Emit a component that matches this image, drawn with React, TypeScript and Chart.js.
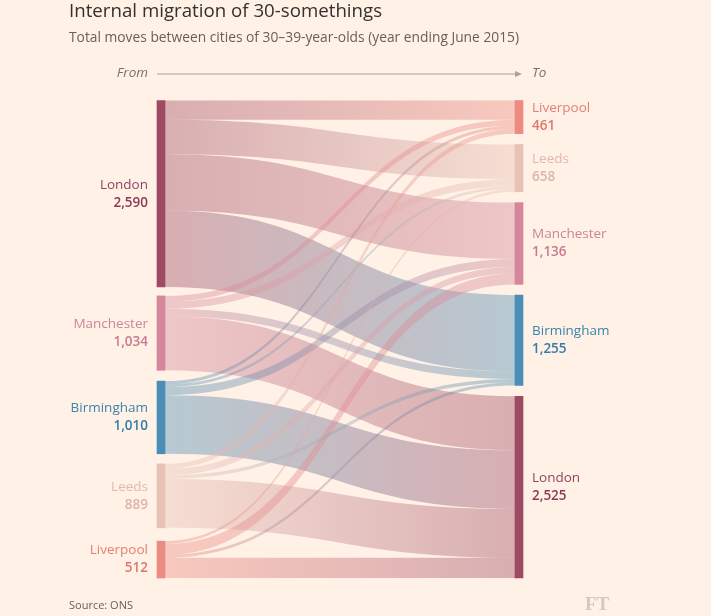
import React, { useEffect, useRef } from "react";
import { Chart, registerables } from "chart.js";
Chart.register(...registerables);

// ---- Data ----
const sourceCities = ["London", "Manchester", "Birmingham", "Leeds", "Liverpool"];
const targetCities = ["Liverpool", "Leeds", "Manchester", "Birmingham", "London"];
// flows (from -> to, number of moves)
const flowFrom = [
  "London", "London", "London", "London",
  "Manchester", "Manchester", "Manchester", "Manchester",
  "Birmingham", "Birmingham", "Birmingham", "Birmingham",
  "Leeds", "Leeds", "Leeds", "Leeds",
  "Liverpool", "Liverpool", "Liverpool", "Liverpool",
];
const flowTo = [
  "Liverpool", "Leeds", "Manchester", "Birmingham",
  "Liverpool", "Leeds", "Birmingham", "London",
  "Liverpool", "Leeds", "Manchester", "London",
  "Liverpool", "Manchester", "Birmingham", "London",
  "Leeds", "Manchester", "Birmingham", "London",
];
const flowValues = [
  266, 480, 784, 1060,
  80, 100, 104, 750,
  45, 40, 110, 815,
  70, 90, 49, 680,
  38, 152, 42, 280,
];

const cityColors: Record<string, string> = {
  London: "#9e4a64",
  Manchester: "#d4879b",
  Birmingham: "#4a8db6",
  Leeds: "#e8c1b7",
  Liverpool: "#ec8b82",
};
const labelColors: Record<string, string> = {
  London: "#8e4660",
  Manchester: "#cc8599",
  Birmingham: "#3a84ad",
  Leeds: "#dfb8ae",
  Liverpool: "#e27f76",
};
const valueColors: Record<string, string> = {
  London: "#8a3a55",
  Manchester: "#c97a90",
  Birmingham: "#337ea8",
  Leeds: "#dcb3a9",
  Liverpool: "#df766d",
};

const leftGaps = [125, 150, 140, 185];
const rightGaps = [150, 150, 150, 150];

const FONT = '"Open Sans", sans-serif';
const BG = "#fff1e5";

function sum(a: number[]) {
  return a.reduce((s, v) => s + v, 0);
}

function layoutNodes(cities: string[], gaps: number[], key: "from" | "to") {
  let pos = 0;
  return cities.map((c, i) => {
    const total = sum(flowValues.filter((_, k) => (key === "from" ? flowFrom[k] : flowTo[k]) === c));
    const node = { city: c, start: pos, end: pos + total, total };
    pos += total + (gaps[i] || 0);
    return node;
  });
}

const leftNodes = layoutNodes(sourceCities, leftGaps, "from");
const rightNodes = layoutNodes(targetCities, rightGaps, "to");
const yMax = Math.max(leftNodes[leftNodes.length - 1].end, rightNodes[rightNodes.length - 1].end);

function hexA(hex: string, a: number) {
  const n = parseInt(hex.slice(1), 16);
  return `rgba(${(n >> 16) & 255},${(n >> 8) & 255},${n & 255},${a})`;
}

// compute flow offsets
function flowGeometry() {
  const outOff: Record<string, number> = {};
  const inOff: Record<string, number> = {};
  leftNodes.forEach((n) => (outOff[n.city] = n.start));
  rightNodes.forEach((n) => (inOff[n.city] = n.start));
  const idx = flowValues.map((_, i) => i);
  const srcStart: number[] = [];
  const tgtStart: number[] = [];
  sourceCities.forEach((s) => {
    idx
      .filter((i) => flowFrom[i] === s)
      .sort((a, b) => targetCities.indexOf(flowTo[a]) - targetCities.indexOf(flowTo[b]))
      .forEach((i) => {
        srcStart[i] = outOff[s];
        outOff[s] += flowValues[i];
      });
  });
  targetCities.forEach((t) => {
    idx
      .filter((i) => flowTo[i] === t)
      .sort((a, b) => sourceCities.indexOf(flowFrom[a]) - sourceCities.indexOf(flowFrom[b]))
      .forEach((i) => {
        tgtStart[i] = inOff[t];
        inOff[t] += flowValues[i];
      });
  });
  return { srcStart, tgtStart };
}
const geo = flowGeometry();

const fmt = (v: number) => v.toLocaleString("en-US");

const bgPlugin = {
  id: "bg",
  beforeDraw(chart: any) {
    const { ctx, width, height } = chart;
    ctx.save();
    ctx.fillStyle = BG;
    ctx.fillRect(0, 0, width, height);
    ctx.restore();
  },
};

const flowPlugin = {
  id: "flows",
  beforeDatasetsDraw(chart: any) {
    const { ctx, scales } = chart;
    const xs = scales.x, ys = scales.y;
    const x0 = xs.getPixelForValue(0) + 4;
    const x1 = xs.getPixelForValue(100) - 4;
    const xm = (x0 + x1) / 2;
    const order = flowValues.map((_, i) => i).sort((a, b) => flowValues[b] - flowValues[a]);
    ctx.save();
    order.forEach((i) => {
      const s0 = ys.getPixelForValue(geo.srcStart[i]);
      const s1 = ys.getPixelForValue(geo.srcStart[i] + flowValues[i]);
      const t0 = ys.getPixelForValue(geo.tgtStart[i]);
      const t1 = ys.getPixelForValue(geo.tgtStart[i] + flowValues[i]);
      const g = ctx.createLinearGradient(x0, 0, x1, 0);
      g.addColorStop(0, hexA(cityColors[flowFrom[i]], 0.4));
      g.addColorStop(1, hexA(cityColors[flowTo[i]], 0.4));
      ctx.fillStyle = g;
      ctx.beginPath();
      ctx.moveTo(x0, s0);
      ctx.bezierCurveTo(xm, s0, xm, t0, x1, t0);
      ctx.lineTo(x1, t1);
      ctx.bezierCurveTo(xm, t1, xm, s1, x0, s1);
      ctx.closePath();
      ctx.fill();
    });
    ctx.restore();
  },
};

const labelPlugin = {
  id: "labels",
  afterDatasetsDraw(chart: any) {
    const { ctx, scales, chartArea } = chart;
    const xs = scales.x, ys = scales.y;
    const lx = xs.getPixelForValue(0) - 13;
    const rx = xs.getPixelForValue(100) + 13;
    ctx.save();
    ctx.textBaseline = "middle";
    const drawLabel = (n: any, x: number, align: string) => {
      const cy = ys.getPixelForValue((n.start + n.end) / 2);
      ctx.textAlign = align;
      ctx.font = `13.5px ${FONT}`;
      ctx.fillStyle = labelColors[n.city];
      ctx.fillText(n.city, x, cy - 9);
      ctx.font = `600 13.5px ${FONT}`;
      ctx.fillStyle = valueColors[n.city];
      ctx.fillText(fmt(n.total), x, cy + 9);
    };
    leftNodes.forEach((n) => drawLabel(n, lx, "right"));
    rightNodes.forEach((n) => drawLabel(n, rx, "left"));

    // From -> To header
    const hy = chartArea.top - 27;
    ctx.font = `italic 13.5px ${FONT}`;
    ctx.fillStyle = "#77716c";
    ctx.textAlign = "right";
    ctx.fillText("From", lx, hy);
    ctx.textAlign = "left";
    ctx.fillText("To", rx, hy);
    const ax0 = xs.getPixelForValue(0) - 4;
    const ax1 = xs.getPixelForValue(100) + 3;
    ctx.strokeStyle = "#a8a29d";
    ctx.lineWidth = 1;
    ctx.beginPath();
    ctx.moveTo(ax0, hy + 0.5);
    ctx.lineTo(ax1 - 5, hy + 0.5);
    ctx.stroke();
    ctx.fillStyle = "#a8a29d";
    ctx.beginPath();
    ctx.moveTo(ax1, hy + 0.5);
    ctx.lineTo(ax1 - 7, hy - 2.5);
    ctx.lineTo(ax1 - 7, hy + 3.5);
    ctx.closePath();
    ctx.fill();

    // footer
    ctx.font = `11px ${FONT}`;
    ctx.fillStyle = "#66605c";
    ctx.textAlign = "left";
    ctx.fillText("Source: ONS", 69, 606);
    ctx.font = `bold 19px "Liberation Serif", serif`;
    ctx.fillStyle = "#d3c9c0";
    ctx.fillText("FT", 585, 605);
    ctx.restore();
  },
};

export default function App() {
  const ref = useRef<HTMLCanvasElement>(null);
  useEffect(() => {
    document.body.style.margin = "0";
    document.body.style.background = BG;
    const canvas = ref.current!;
    const datasets = [
      ...leftNodes.map((n) => ({
        label: "From " + n.city,
        data: [{ x: 0, y: [n.start, n.end] }],
        backgroundColor: cityColors[n.city],
        barThickness: 8,
        grouped: false,
        clip: false,
      })),
      ...rightNodes.map((n) => ({
        label: "To " + n.city,
        data: [{ x: 100, y: [n.start, n.end] }],
        backgroundColor: cityColors[n.city],
        barThickness: 8,
        grouped: false,
        clip: false,
      })),
    ];
    const chart = new Chart(canvas, {
      type: "bar",
      data: { datasets } as any,
      options: {
        animation: false,
        responsive: false,
        maintainAspectRatio: false,
        layout: { padding: { left: 69, right: 192, top: 0, bottom: 38 } },
        plugins: {
          legend: { display: false },
          tooltip: { enabled: false },
          title: {
            display: true,
            text: "Internal migration of 30-somethings",
            align: "start",
            color: "#33302e",
            font: { family: FONT, size: 18.7, weight: "normal", lineHeight: 1.2 },
            padding: { top: 0, bottom: 4 },
          },
          subtitle: {
            display: true,
            text: "Total moves between cities of 30–39-year-olds (year ending June 2015)",
            align: "start",
            color: "#66605c",
            font: { family: FONT, size: 13.8, lineHeight: 1.2 },
            padding: { top: 3.5, bottom: 54 },
          },
        },
        scales: {
          x: { type: "linear", min: 0, max: 100, offset: false, display: false },
          y: {
            type: "linear",
            min: 0,
            max: yMax,
            reverse: true,
            display: true,
            grid: { display: false },
            border: { display: false },
            ticks: { display: false },
            afterFit: (s: any) => {
              s.width = 92;
            },
          },
        },
      } as any,
      plugins: [bgPlugin, flowPlugin, labelPlugin],
    });
    return () => chart.destroy();
  }, []);
  return <canvas ref={ref} width={711} height={616} style={{ display: "block" }} />;
}
